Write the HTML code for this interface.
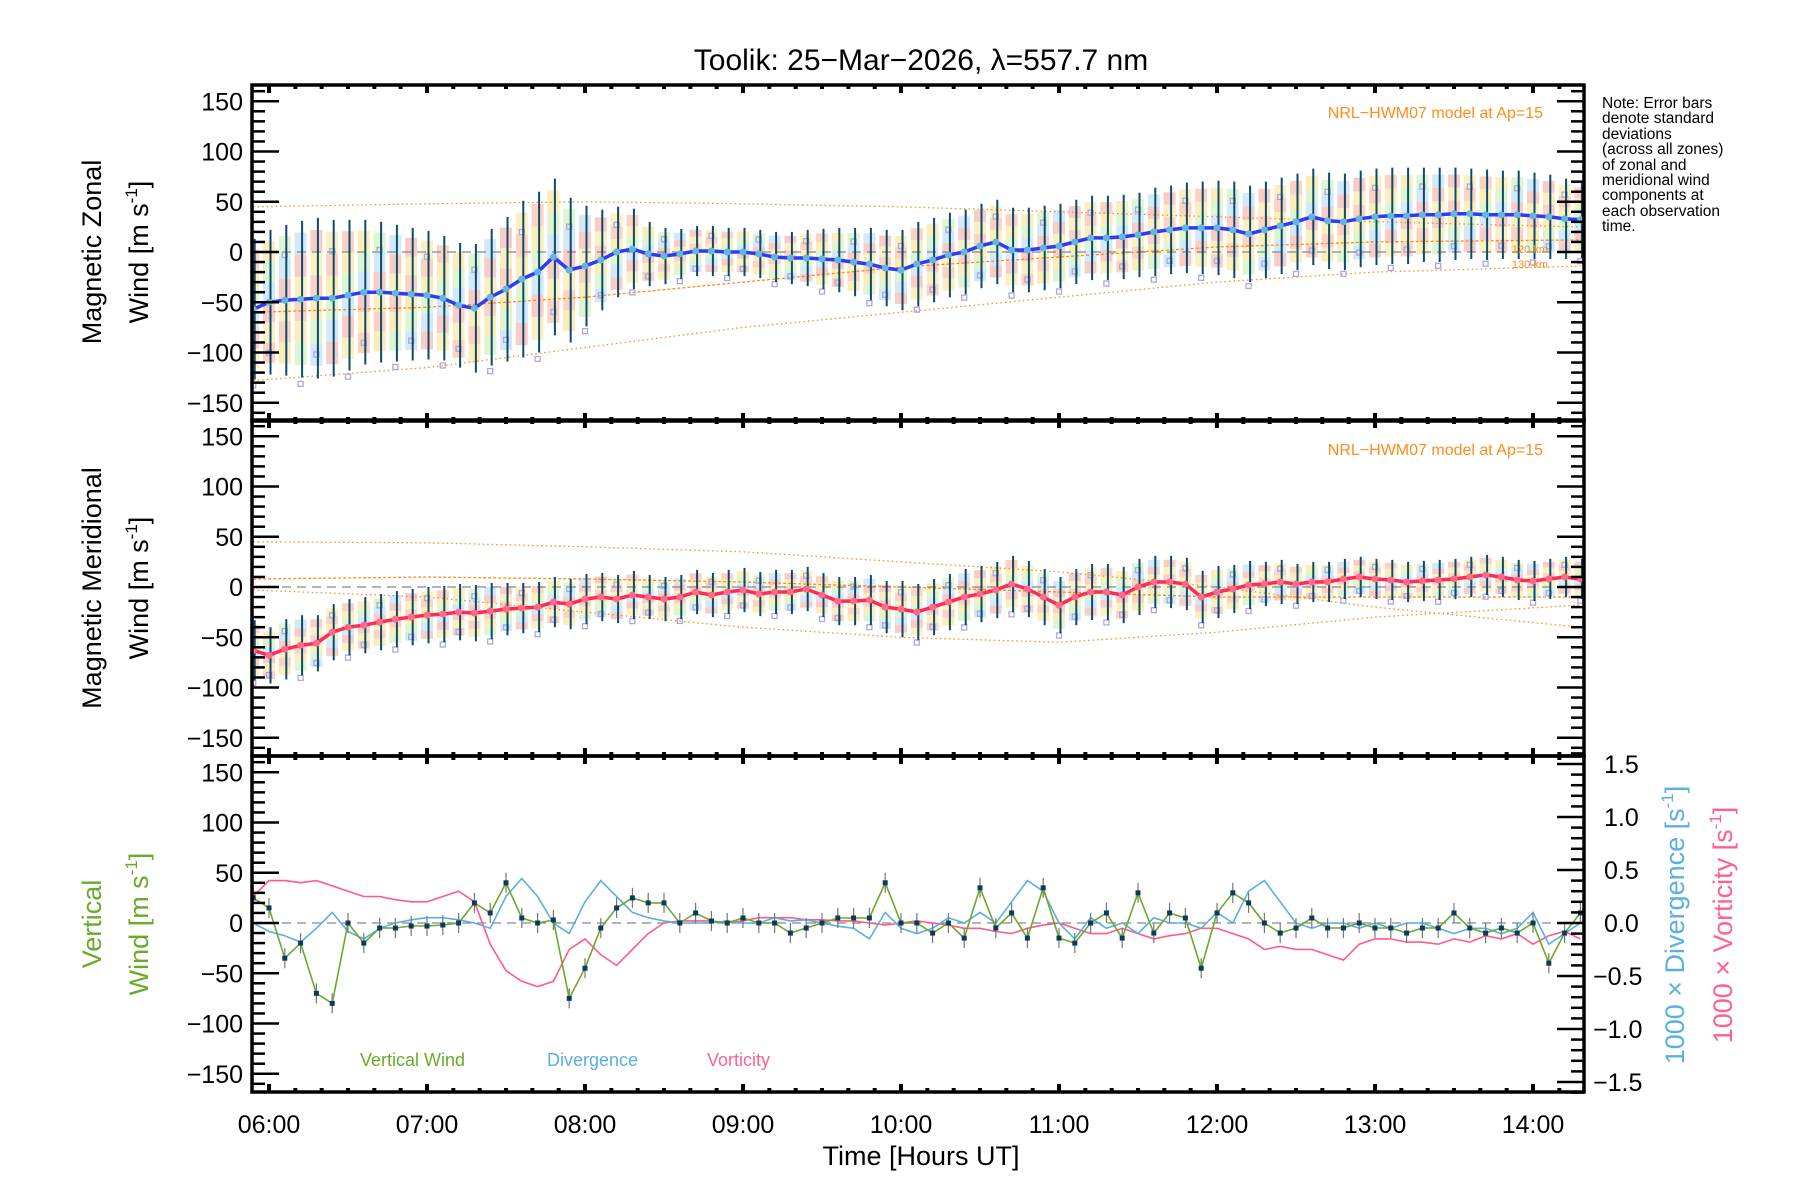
<!DOCTYPE html>
<html><head><meta charset="utf-8">
<style>
html,body{margin:0;padding:0;background:#fff;}
svg{display:block;font-family:"Liberation Sans",sans-serif;}
</style></head>
<body>
<svg id="chart" width="1800" height="1200" viewBox="0 0 1800 1200" xmlns="http://www.w3.org/2000/svg">
<rect width="1800" height="1200" fill="#fff"/>
<g id="marks"></g>
<g id="axes"></g>
<text x="921" y="70" font-size="30" text-anchor="middle" fill="#000">Toolik: 25−Mar−2026, λ=557.7 nm</text>
<g font-size="15.5" fill="#000">
<text x="1602" y="108">Note: Error bars</text>
<text x="1602" y="123">denote standard</text>
<text x="1602" y="139">deviations</text>
<text x="1602" y="154">(across all zones)</text>
<text x="1602" y="170">of zonal and</text>
<text x="1602" y="185">meridional wind</text>
<text x="1602" y="200">components at</text>
<text x="1602" y="216">each observation</text>
<text x="1602" y="231">time.</text>
</g>
<text x="1543" y="118" font-size="16" fill="#ff8c1a" text-anchor="end">NRL−HWM07 model at Ap=15</text>
<text x="1543" y="455" font-size="16" fill="#ff8c1a" text-anchor="end">NRL−HWM07 model at Ap=15</text>
<text x="1548" y="253" font-size="11" fill="#ff8c1a" text-anchor="end">120 km</text>
<text x="1548" y="268" font-size="11" fill="#ff8c1a" text-anchor="end">130 km</text>
<g font-size="27" fill="#000" text-anchor="middle">
<text transform="translate(101,252) rotate(-90)">Magnetic Zonal</text>
<text transform="translate(148,252) rotate(-90)">Wind [m s<tspan font-size="17" dy="-11">-1</tspan><tspan dy="11">]</tspan></text>
</g>
<g font-size="27" fill="#000" text-anchor="middle">
<text transform="translate(101,588) rotate(-90)">Magnetic Meridional</text>
<text transform="translate(148,588) rotate(-90)">Wind [m s<tspan font-size="17" dy="-11">-1</tspan><tspan dy="11">]</tspan></text>
</g>
<g font-size="27" fill="#6aaa2a" text-anchor="middle">
<text transform="translate(101,924) rotate(-90)">Vertical</text>
<text transform="translate(148,924) rotate(-90)">Wind [m s<tspan font-size="17" dy="-11">-1</tspan><tspan dy="11">]</tspan></text>
</g>
<text transform="translate(1684,925) rotate(-90)" font-size="27" fill="#5ab0e0" text-anchor="middle">1000 × Divergence [s<tspan font-size="17" dy="-11">-1</tspan><tspan dy="11">]</tspan></text>
<text transform="translate(1732,925) rotate(-90)" font-size="27" fill="#ff6090" text-anchor="middle">1000 × Vorticity [s<tspan font-size="17" dy="-11">-1</tspan><tspan dy="11">]</tspan></text>
<text x="360" y="1066" font-size="18" fill="#6aaa2a">Vertical Wind</text>
<text x="547" y="1066" font-size="18" fill="#5ab0e0">Divergence</text>
<text x="707" y="1066" font-size="18" fill="#ff6090">Vorticity</text>
<text x="921" y="1165" font-size="27" text-anchor="middle" fill="#000">Time [Hours UT]</text>
</svg>
<script>
const times=[5.9,6.0,6.1,6.2,6.3,6.4,6.5,6.6,6.7,6.8,6.9,7.0,7.1,7.2,7.3,7.4,7.5,7.6,7.7,7.8,7.9,8.0,8.1,8.2,8.3,8.4,8.5,8.6,8.7,8.8,8.9,9.0,9.1,9.2,9.3,9.4,9.5,9.6,9.7,9.8,9.9,10.0,10.1,10.2,10.3,10.4,10.5,10.6,10.7,10.8,10.9,11.0,11.1,11.2,11.3,11.4,11.5,11.6,11.7,11.8,11.9,12.0,12.1,12.2,12.3,12.4,12.5,12.6,12.7,12.8,12.9,13.0,13.1,13.2,13.3,13.4,13.5,13.6,13.7,13.8,13.9,14.0,14.1,14.2,14.3];
const zonal=[-57,-50,-48,-47,-46,-46,-43,-40,-40,-41,-42,-43,-46,-53,-56,-45,-37,-27,-20,-5,-18,-14,-8,0,3,-2,-4,-2,1,1,0,0,-2,-5,-6,-6,-7,-8,-10,-12,-16,-18,-12,-8,-3,0,6,10,2,2,4,6,10,14,14,15,17,20,22,24,24,24,22,18,22,26,30,35,31,30,33,35,36,36,37,37,38,38,37,37,37,36,35,33,32];
const zonalErr=[70,72,75,78,80,78,75,72,70,68,66,64,62,62,64,68,72,78,80,78,72,60,50,45,40,32,28,25,25,25,24,24,24,25,26,28,30,32,34,36,38,40,42,42,42,42,42,42,42,42,42,42,42,42,42,42,42,44,44,45,46,47,48,48,48,48,48,48,48,48,48,48,48,48,47,47,46,45,45,44,44,43,42,40,38];
const merid=[-63,-68,-62,-58,-56,-45,-40,-38,-35,-32,-30,-28,-27,-25,-26,-24,-22,-21,-20,-15,-17,-12,-10,-12,-8,-10,-12,-10,-5,-8,-5,-3,-7,-5,-5,-2,-8,-14,-14,-13,-20,-22,-25,-20,-15,-10,-7,-3,3,-2,-10,-18,-10,-5,-5,-8,0,5,5,3,-10,-5,-2,2,3,5,3,5,5,8,10,8,7,5,6,7,8,10,12,10,7,6,8,10,8];
const meridErr=[30,28,30,30,28,28,28,28,28,28,28,28,28,28,28,28,26,25,25,25,25,25,24,24,24,22,22,22,22,22,22,22,22,22,22,22,22,24,24,25,26,28,28,28,28,28,28,28,28,28,28,28,28,28,28,28,28,26,26,26,26,26,24,24,22,22,20,20,20,20,20,20,20,20,20,20,20,20,20,20,20,20,20,20,20];
const vert=[25,15,-35,-20,-70,-80,0,-20,-5,-5,-3,-3,-2,0,20,10,40,5,0,3,-75,-45,-5,15,25,20,20,0,10,2,0,5,0,0,-10,-5,0,5,5,5,40,0,0,-10,0,-15,35,-5,10,-15,35,-15,-20,0,10,-15,30,-10,10,5,-45,10,30,20,0,-10,-5,5,-5,-5,0,-5,-5,-10,-5,-5,10,-5,-10,-5,-10,0,-40,-10,10];
const diverg=[0.0,-0.08,-0.12,-0.18,-0.05,0.1,-0.08,-0.15,-0.05,0.0,0.03,0.05,0.05,0.03,0.0,-0.05,0.25,0.42,0.25,0.0,-0.1,0.2,0.4,0.25,0.1,0.05,0.02,0.0,0.0,0.0,0.02,0.0,0.0,0.05,0.02,0.03,0.0,-0.03,-0.05,-0.15,0.1,-0.05,-0.1,-0.05,0.05,0.0,0.1,0.0,0.2,0.4,0.3,0.0,-0.15,0.05,-0.05,0.0,-0.1,0.05,0.0,0.0,-0.05,0.1,0.0,0.3,0.4,0.2,0.0,-0.05,0.0,0.0,-0.05,0.0,-0.05,0.0,0.0,-0.05,-0.1,-0.05,-0.05,-0.1,-0.05,0.1,-0.2,-0.1,0.0];
const vort=[0.25,0.4,0.4,0.38,0.4,0.35,0.3,0.25,0.25,0.22,0.2,0.2,0.25,0.3,0.2,-0.2,-0.45,-0.55,-0.6,-0.55,-0.25,-0.15,-0.3,-0.4,-0.25,-0.1,0.0,0.02,0.02,0.02,0.0,0.02,0.05,0.05,0.05,0.03,0.03,0.02,0.02,0.0,-0.02,0.0,0.02,0.0,-0.02,-0.05,-0.05,-0.08,-0.1,-0.05,-0.02,0.0,-0.05,-0.1,-0.1,-0.05,-0.1,-0.15,-0.12,-0.1,-0.05,-0.05,-0.1,-0.15,-0.25,-0.22,-0.25,-0.25,-0.3,-0.35,-0.2,-0.15,-0.15,-0.18,-0.18,-0.2,-0.15,-0.18,-0.12,-0.15,-0.1,-0.2,-0.12,-0.08,-0.15];
const modelHours=[5.9,7,8,9,10,11,12,13,14.3];
const zonalModelA=[45,48,50,48,45,40,35,30,25];
const zonalModelB=[-60,-55,-45,-30,-15,-5,5,10,12];
const zonalModelC=[-128,-115,-95,-75,-60,-45,-30,-20,-14];
const meridModelA=[45,44,40,35,25,15,0,-20,-40];
const meridModelB=[8,10,8,5,0,-5,-10,-10,-10];
const meridModelC=[-3,-10,-25,-40,-50,-55,-45,-30,-18];
const windTicks=[150,100,50,0,-50,-100,-150];
const rightTicks=["1.5","1.0","0.5","0.0","−0.5","−1.0","−1.5"];
const rightTickVals=[1.5,1.0,0.5,0.0,-0.5,-1.0,-1.5];
const hourTicks=["06:00","07:00","08:00","09:00","10:00","11:00","12:00","13:00","14:00"];
const hourTickVals=[6,7,8,9,10,11,12,13,14];

const NS="http://www.w3.org/2000/svg";
const L=252,R=1584;
const panelTops=[85,420,756];
const PH=336;
function x(h){return 269+(h-6)*158;}
function yW(p,v){return panelTops[p]+167-v*1.005;}
function yR(v){return panelTops[2]+167-v*106;}
const marks=document.getElementById('marks');
const axes=document.getElementById('axes');
function mk(tag,attrs,parent){const e=document.createElementNS(NS,tag);for(const k in attrs)e.setAttribute(k,attrs[k]);(parent||marks).appendChild(e);return e;}
function poly(pts){return pts.map(p=>p[0].toFixed(1)+','+p[1].toFixed(1)).join(' ');}

const defs=mk('defs',{});
for(let p=0;p<3;p++){const c=mk('clipPath',{id:'clip'+p},defs);mk('rect',{x:L,y:panelTops[p],width:R-L,height:PH},c);}

const zoneColors=['#fbc8b0','#fbe8a8','#d6f2c4','#c8e4f6','#f8c0b8','#fcecb0'];
function windPanel(p,vals,errs,modelSets,lineColor,dotColor,name){
  const g=mk('g',{'clip-path':'url(#clip'+p+')'});
  
  
  for(let i=0;i<times.length;i++){
    const xi=x(times[i]);const e=errs[i]*0.85;
    const seg=6;const h=(2*e)/seg;
    for(let s=0;s<seg;s++){
      const r=mk('rect',{x:xi-6,y:yW(p,vals[i]+e)+s*h,width:12,height:h,fill:zoneColors[(s+i)%6],opacity:0.8},g);
      
      
    }
  }
  modelSets.forEach((m,k)=>{
    const l=mk('polyline',{points:poly(modelHours.map((h,j)=>[x(h),yW(p,m[j])])),fill:'none',stroke:'#ff8c1a','stroke-width':1.3,'stroke-dasharray':k==1?'3,2':'1.5,3'},g);
    
    
  });
  const z=mk('line',{x1:L,x2:R,y1:yW(p,0),y2:yW(p,0),stroke:'#888','stroke-width':1.2,'stroke-dasharray':'9,6'},g);
  
  
  for(let i=0;i<times.length;i++){
    const f=(i%3===0)?1.08:(i%3===1?0.7:-0.6);
    const sq=mk('rect',{x:x(times[i])-2.5,y:yW(p,vals[i]-errs[i]*f)-2.5,width:5,height:5,fill:'none',stroke:'#aaa8dd','stroke-width':1.3},g);
    
    
  }
  for(let i=0;i<times.length;i++){
    const xi=x(times[i])+1.5;
    const b=mk('line',{x1:xi,x2:xi,y1:yW(p,vals[i]+errs[i]),y2:yW(p,vals[i]-errs[i]),stroke:'#0d4a6e','stroke-width':2},g);
    
    
  }
  const ln=mk('polyline',{points:poly(times.map((t,i)=>[x(t),yW(p,vals[i])])),fill:'none',stroke:lineColor,'stroke-width':3.5},g);
  
  
  for(let i=0;i<times.length;i++){
    const c=mk('circle',{cx:x(times[i]),cy:yW(p,vals[i]),r:3.5,fill:dotColor},g);
    
    
  }
}
windPanel(0,zonal,zonalErr,[zonalModelA,zonalModelB,zonalModelC],'#2a3cf5','#66b4e0','zonal');
windPanel(1,merid,meridErr,[meridModelA,meridModelB,meridModelC],'#ff2a55','#ff6a8a','meridional');

(function(){
  const g=mk('g',{'clip-path':'url(#clip2)'});
  
  
  const z=mk('line',{x1:L,x2:R,y1:yW(2,0),y2:yW(2,0),stroke:'#888','stroke-width':1.2,'stroke-dasharray':'9,6'},g);
  
  
  const vo=mk('polyline',{points:poly(times.map((t,i)=>[x(t),yR(vort[i])])),fill:'none',stroke:'#ff5a8a','stroke-width':1.6},g);
  
  
  const dv=mk('polyline',{points:poly(times.map((t,i)=>[x(t),yR(diverg[i])])),fill:'none',stroke:'#5ab0e0','stroke-width':1.6},g);
  
  
  for(let i=0;i<times.length;i++){
    const e=mk('line',{x1:x(times[i]),x2:x(times[i]),y1:yW(2,vert[i]+10),y2:yW(2,vert[i]-10),stroke:'#777','stroke-width':1.2},g);
    
    
  }
  const vw=mk('polyline',{points:poly(times.map((t,i)=>[x(t),yW(2,vert[i])])),fill:'none',stroke:'#6aaa2a','stroke-width':1.6},g);
  
  
  for(let i=0;i<times.length;i++){
    const s=mk('rect',{x:x(times[i])-2.5,y:yW(2,vert[i])-2.5,width:5,height:5,fill:'#0d3a5a'},g);
    
    
  }
})();

for(let p=0;p<3;p++){
  const t=panelTops[p],b=t+PH;
  const fr=mk('rect',{x:L,y:t,width:R-L,height:PH,fill:'none',stroke:'#000','stroke-width':3.5},axes);
  
  
  for(let v=-160;v<=160;v+=10){
    const yy=yW(p,v);const major=v%50===0;
    mk('line',{x1:L,x2:L+(major?27:13),y1:yy,y2:yy,stroke:'#000','stroke-width':2.5},axes);
    if(p<2) mk('line',{x1:R,x2:R-(major?27:13),y1:yy,y2:yy,stroke:'#000','stroke-width':2.5},axes);
  }
  windTicks.forEach(v=>{
    const tx=mk('text',{x:243,y:yW(p,v)+9,'font-size':25,'text-anchor':'end',fill:'#000'},axes);
    tx.textContent=v<0?'−'+Math.abs(v):String(v);
    
    
  });
  for(let m=0;m<=51;m++){
    const h=5.9+m/6; const hh=Math.round(h*6)/6;
    const xx=x(hh); if(xx<L+2||xx>R-2)continue;
    const major=Math.abs(hh-Math.round(hh))<0.01;
    const len=major?8:4;
    mk('line',{x1:xx,x2:xx,y1:b,y2:b-len,stroke:'#000','stroke-width':4},axes);
    mk('line',{x1:xx,x2:xx,y1:t,y2:t+len,stroke:'#000','stroke-width':4},axes);
  }
}
for(let v=-1.6;v<=1.61;v+=0.1){
  const vv=Math.round(v*10)/10;const yy=yR(vv);const major=Math.abs(vv*2-Math.round(vv*2))<0.01;
  mk('line',{x1:R,x2:R-(major?27:13),y1:yy,y2:yy,stroke:'#000','stroke-width':2.5},axes);
}
rightTickVals.forEach((v,i)=>{
  const tx=mk('text',{x:v<0?1593:1604,y:yR(v)+9,'font-size':25,fill:'#000'},axes);
  tx.textContent=rightTicks[i];
  
  
});
hourTickVals.forEach((h,i)=>{
  const tx=mk('text',{x:x(h),y:1133,'font-size':25,'text-anchor':'middle',fill:'#000'},axes);
  tx.textContent=hourTicks[i];
  
  
});
</script>
</body></html>
